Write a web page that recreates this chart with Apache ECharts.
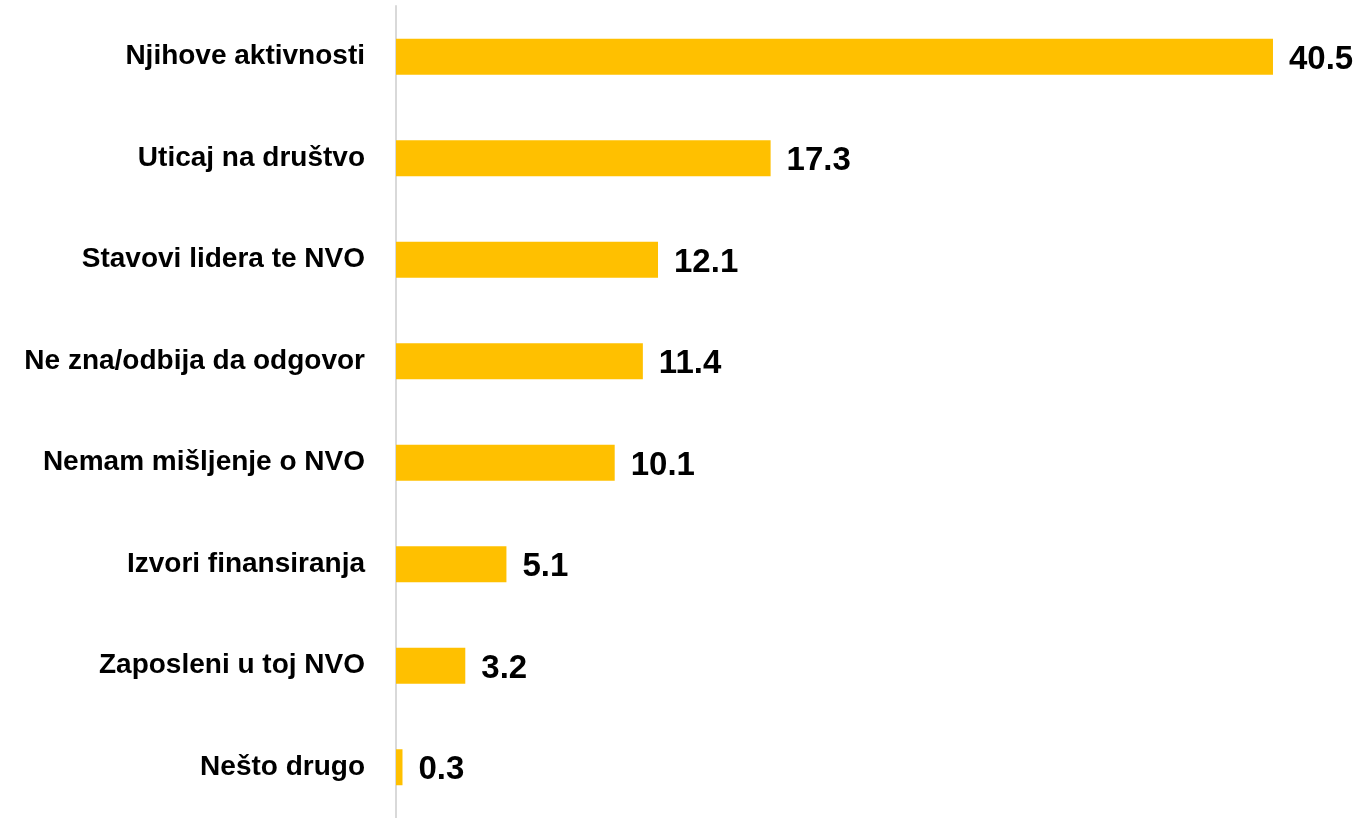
<!DOCTYPE html>
<html>
<head>
<meta charset="utf-8">
<script src="https://cdn.jsdelivr.net/npm/echarts@6/dist/echarts.min.js"></script>
<style>
html,body{margin:0;padding:0;background:#fff;}
#chart{width:1361px;height:818px;}
</style>
</head>
<body>
<div id="chart"></div>
<script>
const categories = ["Njihove aktivnosti","Uticaj na društvo","Stavovi lidera te NVO","Ne zna/odbija da odgovor","Nemam mišljenje o NVO","Izvori finansiranja","Zaposleni u toj NVO","Nešto drugo"];
const values = [40.5, 17.3, 12.1, 11.4, 10.1, 5.1, 3.2, 0.3];

const chart = echarts.init(document.getElementById('chart'));
const xMax = 42;
chart.setOption({
  animation: false,
  backgroundColor: '#ffffff',
  grid: { left: 396, top: 6, width: 21.654 * xMax, height: 815, containLabel: false },
  xAxis: { type: 'value', min: 0, max: xMax, show: false },
  yAxis: {
    type: 'category', data: categories, inverse: true,
    axisLine: { show: true, lineStyle: { color: '#d9d9d9', width: 2 } },
    axisTick: { show: false },
    axisLabel: { color: '#000', fontWeight: 'bold', fontSize: 28, fontFamily: 'Liberation Sans', margin: 31 }
  },
  series: [{
    type: 'bar', data: values, barWidth: 36,
    itemStyle: { color: '#FFC000' },
    label: { show: true, position: 'right', distance: 16, offset: [0, 3], color: '#000', fontWeight: 'bold', fontSize: 33, fontFamily: 'Liberation Sans', formatter: p => p.value.toFixed(1) }
  }]
});
</script>
</body>
</html>
